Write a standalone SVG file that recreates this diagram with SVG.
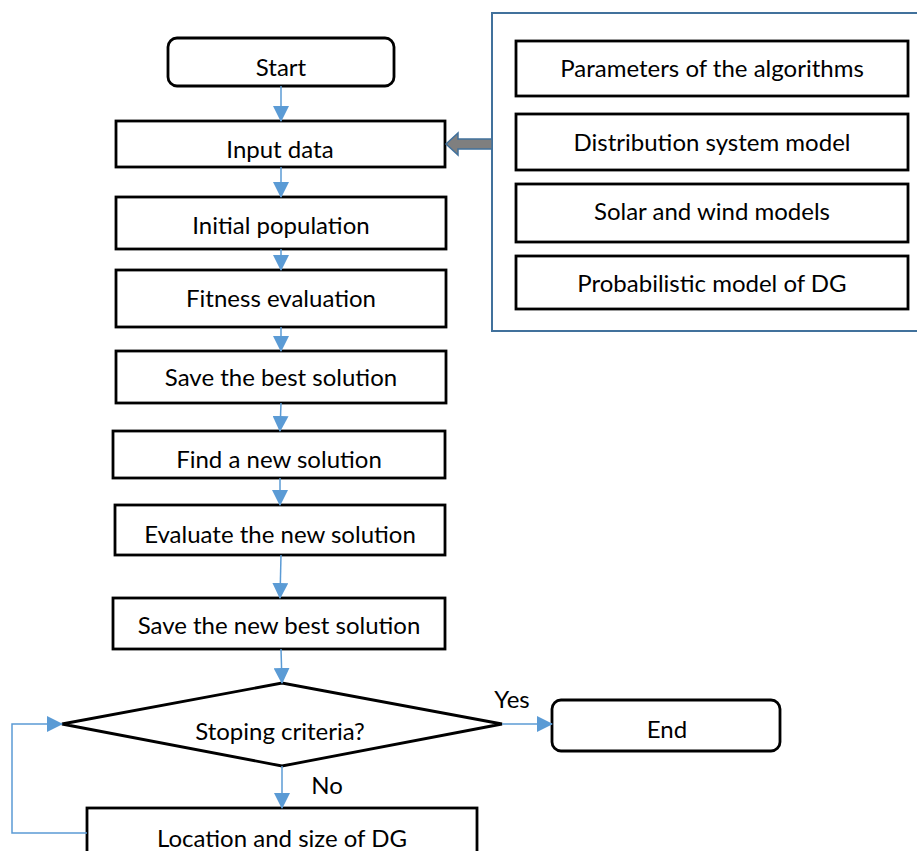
<svg xmlns="http://www.w3.org/2000/svg" width="917" height="851" viewBox="0 0 917 851">
<style>
.box{fill:#fff;stroke:#000;stroke-width:2.8}
.panel{fill:#fff;stroke:#41719C;stroke-width:2}
.t{font-family:Lato,"Liberation Sans",sans-serif;font-size:24px;fill:#000;text-anchor:middle}
.c{fill:none;stroke:#5B9BD5;stroke-width:1.5}
.ah{fill:#5B9BD5}
</style>
<defs>
<marker id="arr" markerWidth="16" markerHeight="16" refX="15" refY="8" orient="auto" markerUnits="userSpaceOnUse" viewBox="0 0 16 16">
<path d="M0,0 L16,8 L0,16 Z" class="ah"/>
</marker>
</defs>
<g id="panel">
<rect class="panel" x="492" y="13" width="440" height="318"/>
</g>
<g id="params"><rect class="box" x="516" y="41" width="392" height="55"/><text class="t" x="712" y="77">Parameters of the algorithms</text></g>
<g id="distmodel"><rect class="box" x="516" y="114" width="392" height="56"/><text class="t" x="712" y="151">Distribution system model</text></g>
<g id="solarwind"><rect class="box" x="516" y="184" width="392" height="58"/><text class="t" x="712" y="220">Solar and wind models</text></g>
<g id="probdg"><rect class="box" x="516" y="256" width="392" height="53"/><text class="t" x="712" y="292">Probabilistic model of DG</text></g>
<g id="start"><rect class="box" x="168" y="38" width="226" height="48" rx="9"/><text class="t" x="281" y="76">Start</text></g>
<g id="input"><rect class="box" x="116" y="121" width="329" height="46"/><text class="t" x="280" y="158">Input data</text></g>
<g id="initpop"><rect class="box" x="116" y="197" width="330" height="52"/><text class="t" x="281" y="234">Initial population</text></g>
<g id="fitness"><rect class="box" x="116" y="270" width="330" height="57"/><text class="t" x="281" y="307">Fitness evaluation</text></g>
<g id="savebest"><rect class="box" x="116" y="351" width="330" height="52"/><text class="t" x="281" y="386">Save the best solution</text></g>
<g id="findnew"><rect class="box" x="113" y="431" width="332" height="47"/><text class="t" x="279" y="468">Find a new solution</text></g>
<g id="evalnew"><rect class="box" x="115" y="505" width="330" height="50"/><text class="t" x="280" y="543">Evaluate the new solution</text></g>
<g id="savenew"><rect class="box" x="113" y="598" width="332" height="51"/><text class="t" x="279" y="634">Save the new best solution</text></g>
<g id="stop"><polygon class="box" points="62,724 282,683 502,724 282,766"/><text class="t" x="280" y="740">Stoping criteria?</text></g>
<g id="end"><rect class="box" x="552" y="700" width="228" height="51" rx="9"/><text class="t" x="667" y="738">End</text></g>
<g id="location"><rect class="box" x="87" y="808" width="390" height="60"/><text class="t" x="282" y="847">Location and size of DG</text></g>
<g id="connectors">
<line class="c" x1="281" y1="86" x2="281" y2="121" marker-end="url(#arr)"/>
<line class="c" x1="281" y1="167" x2="281" y2="197" marker-end="url(#arr)"/>
<line class="c" x1="281" y1="249" x2="281" y2="270" marker-end="url(#arr)"/>
<line class="c" x1="281" y1="327" x2="281" y2="351" marker-end="url(#arr)"/>
<line class="c" x1="281" y1="403" x2="280" y2="431" marker-end="url(#arr)"/>
<line class="c" x1="280" y1="478" x2="280" y2="505" marker-end="url(#arr)"/>
<line class="c" x1="281" y1="555" x2="280" y2="598" marker-end="url(#arr)"/>
<line class="c" x1="281" y1="649" x2="282" y2="683" marker-end="url(#arr)"/>
<line class="c" x1="282" y1="766" x2="282" y2="808" marker-end="url(#arr)"/>
<line class="c" x1="502" y1="724" x2="552" y2="724" marker-end="url(#arr)"/>
<polyline class="c" points="87,833 12,833 12,724 62,724" marker-end="url(#arr)"/>
<polygon points="446,144 458,133 458,139 492,139 492,149 458,149 458,155" fill="#7F7F7F" stroke="#41719C" stroke-width="1.5"/>
<text class="t" x="512" y="708">Yes</text>
<text class="t" x="327" y="794">No</text>
</g>
</svg>
